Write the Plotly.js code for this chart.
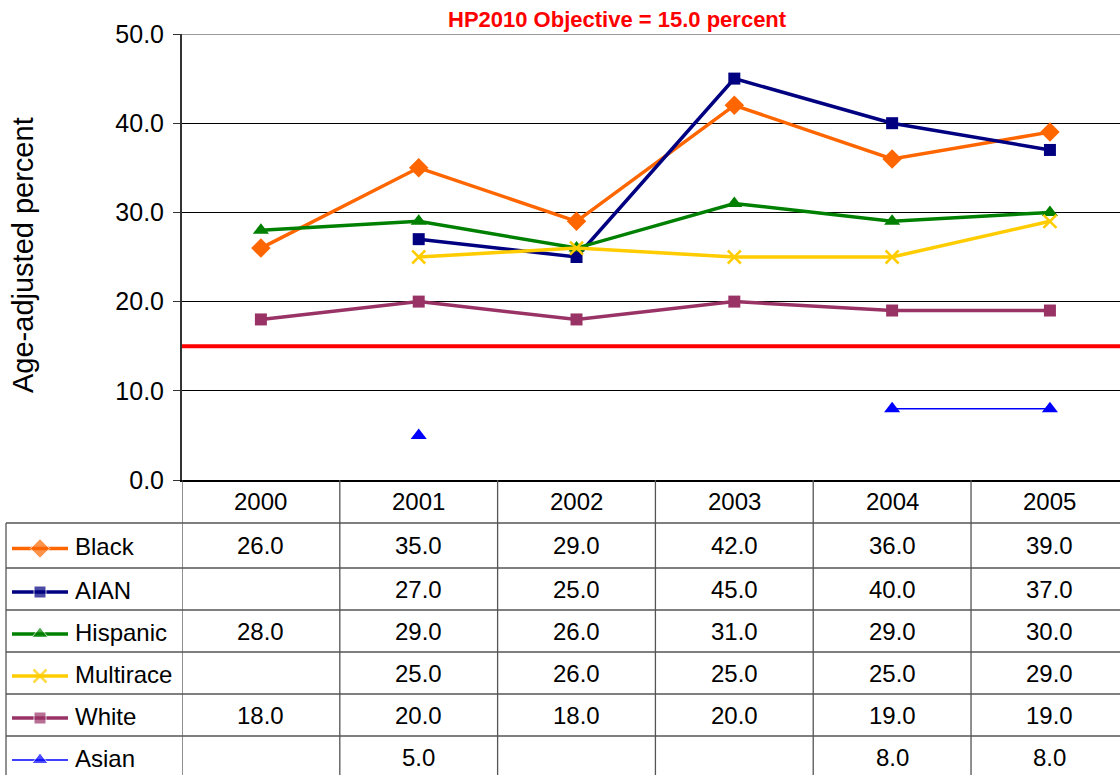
<!DOCTYPE html>
<html>
<head>
<meta charset="utf-8">
<script src="https://cdn.plot.ly/plotly-3.0.1.min.js"></script>
<style>html,body{margin:0;padding:0;background:#fff;}#chart{width:1120px;height:775px;}</style>
</head>
<body>
<div id="chart"></div>
<script>
// ---- data ----
const years = ["2000", "2001", "2002", "2003", "2004", "2005"];
const seriesNames = ["Black", "AIAN", "Hispanic", "Multirace", "White", "Asian"];
const black = [26.0, 35.0, 29.0, 42.0, 36.0, 39.0];
const aian = [null, 27.0, 25.0, 45.0, 40.0, 37.0];
const hispanic = [28.0, 29.0, 26.0, 31.0, 29.0, 30.0];
const multirace = [null, 25.0, 26.0, 25.0, 25.0, 29.0];
const white = [18.0, 20.0, 18.0, 20.0, 19.0, 19.0];
const asian = [null, 5.0, null, null, 8.0, 8.0];
const objective = 15.0;
const titleText = "HP2010 Objective = 15.0 percent";
const yTitle = "Age-adjusted percent";

// ---- styles ----
const W = 1120, H = 775;
const styles = [
  {color: "#FF6600", symbol: "diamond", size: 15, width: 3.5},
  {color: "#000080", symbol: "square", size: 12, width: 3.5},
  {color: "#008000", symbol: "triangle-up", size: 14, width: 3.5},
  {color: "#FFCC00", symbol: "x-thin", size: 13, width: 3.5},
  {color: "#993366", symbol: "square", size: 12, width: 3.5},
  {color: "#0000FF", symbol: "triangle-up", size: 14, width: 1.5}
];
const values = [black, aian, hispanic, multirace, white, asian];

const plotLeft = 182, plotTop = 34, plotBottom = 480;
const rowEdges = [480, 523, 568, 610, 652, 694, 736, 778]; // header row + 6 series rows
const tableLeft = 6;
const rowCenter = r => (rowEdges[r] + rowEdges[r + 1]) / 2;
const py = p => (H - p) / H;   // page pixel y -> paper
const px = p => p / W;         // page pixel x -> paper

const font = "Liberation Sans, Arial, sans-serif";
const gridLineColor = "#555555";
const traces = [];

// legend keys in the data table (overlay axes in page pixels)
values.forEach((v, i) => {
  const s = styles[i];
  const cy = rowCenter(i + 1) + 3;
  const mk = {color: s.color, symbol: s.symbol, size: [0, s.size, 0]};
  if (s.symbol === "x-thin") mk.line = {color: s.color, width: 2.5};
  traces.push({
    x: [12, 40, 68], y: [cy, cy, cy], xaxis: "x2", yaxis: "y2",
    type: "scatter", mode: "lines+markers",
    line: {color: s.color, width: s.width}, marker: mk,
    showlegend: false, hoverinfo: "skip"
  });
});

values.forEach((v, i) => {
  const s = styles[i];
  const mk = {color: s.color, symbol: s.symbol, size: s.size};
  if (s.symbol === "x-thin") mk.line = {color: s.color, width: 2.5};
  traces.push({
    x: years.map((_, k) => k), y: v, xaxis: "x", yaxis: "y", type: "scatter", mode: "lines+markers",
    connectgaps: false, line: {color: s.color, width: s.width}, marker: mk,
    showlegend: false, hoverinfo: "skip", cliponaxis: false
  });
});

const shapes = [];
const annotations = [];
// objective line
shapes.push({type: "line", xref: "paper", yref: "y", x0: px(plotLeft), x1: 1, y0: objective, y1: objective,
  line: {color: "#FF0000", width: 4}, layer: "above"});
// top gray border
shapes.push({type: "line", xref: "paper", yref: "y", x0: px(plotLeft), x1: 1, y0: 50, y1: 50,
  line: {color: "#999999", width: 2}, layer: "above"});
// table horizontal lines
for (let r = 1; r < rowEdges.length - 1; r++) {
  const yy = rowEdges[r];
  shapes.push({type: "line", xref: "paper", yref: "paper", x0: px(tableLeft), x1: 1, y0: py(yy), y1: py(yy),
    line: {color: gridLineColor, width: 1.3}});
}
// table vertical lines
for (let k = 0; k < years.length; k++) {
  shapes.push({type: "line", xref: "x", yref: "paper", x0: k - 0.5, x1: k - 0.5, y0: 0, y1: py(plotBottom),
    line: {color: gridLineColor, width: 1.3}});
}
shapes.push({type: "line", xref: "paper", yref: "paper", x0: px(tableLeft), x1: px(tableLeft), y0: 0, y1: py(rowEdges[1]),
  line: {color: gridLineColor, width: 1.3}});

const tfont = {family: font, size: 24, color: "#000"};
// header years
years.forEach((yr, k) => {
  annotations.push({x: k, xref: "x", y: py(rowCenter(0)), yref: "paper", text: yr,
    showarrow: false, font: tfont, xanchor: "center", yanchor: "middle"});
});
// table cells
values.forEach((v, i) => {
  const cy = rowCenter(i + 1);
  annotations.push({x: px(73), xref: "paper", y: py(cy + 1), yref: "paper", text: seriesNames[i],
    showarrow: false, font: tfont, xanchor: "left", yanchor: "middle"});
  v.forEach((val, k) => {
    if (val === null) return;
    annotations.push({x: k, xref: "x", y: py(cy), yref: "paper", text: val.toFixed(1),
      showarrow: false, font: tfont, xanchor: "center", yanchor: "middle"});
  });
});
// title
annotations.push({x: px(617), xref: "paper", y: py(20), yref: "paper", text: "<b>" + titleText + "</b>",
  showarrow: false, font: {family: font, size: 22, color: "#FF0000"}, xanchor: "center", yanchor: "middle"});
// y title
annotations.push({x: px(23), xref: "paper", y: py(255), yref: "paper", text: yTitle, textangle: -90,
  showarrow: false, font: {family: font, size: 29, color: "#000"}, xanchor: "center", yanchor: "middle"});

const layout = {
  width: W, height: H,
  margin: {l: 0, r: 0, t: 0, b: 0, pad: 0},
  paper_bgcolor: "#fff", plot_bgcolor: "rgba(0,0,0,0)",
  showlegend: false,
  xaxis: {domain: [px(plotLeft), 1], range: [-0.5, 5.444], showgrid: false, zeroline: false,
    showticklabels: false, ticks: "", showline: true, linecolor: "#000", linewidth: 2, fixedrange: true,
    anchor: "y"},
  yaxis: {domain: [py(plotBottom), py(plotTop)], range: [0, 50], dtick: 10, tick0: 0, tickformat: ".1f",
    showgrid: true, gridcolor: "#000", gridwidth: 1, zeroline: false, anchor: "x",
    showline: true, linecolor: "#333", linewidth: 2, ticks: "outside", ticklen: 7, tickcolor: "#333",
    tickfont: {family: font, size: 25, color: "#000"}, ticklabelstandoff: 4, fixedrange: true},
  xaxis2: {domain: [0, 1], range: [0, W], visible: false, anchor: "y2", fixedrange: true},
  yaxis2: {domain: [0, 1], range: [H, 0], visible: false, anchor: "x2", fixedrange: true},
  shapes: shapes, annotations: annotations
};
Plotly.newPlot("chart", traces, layout, {staticPlot: true, displayModeBar: false});
</script>
</body>
</html>
